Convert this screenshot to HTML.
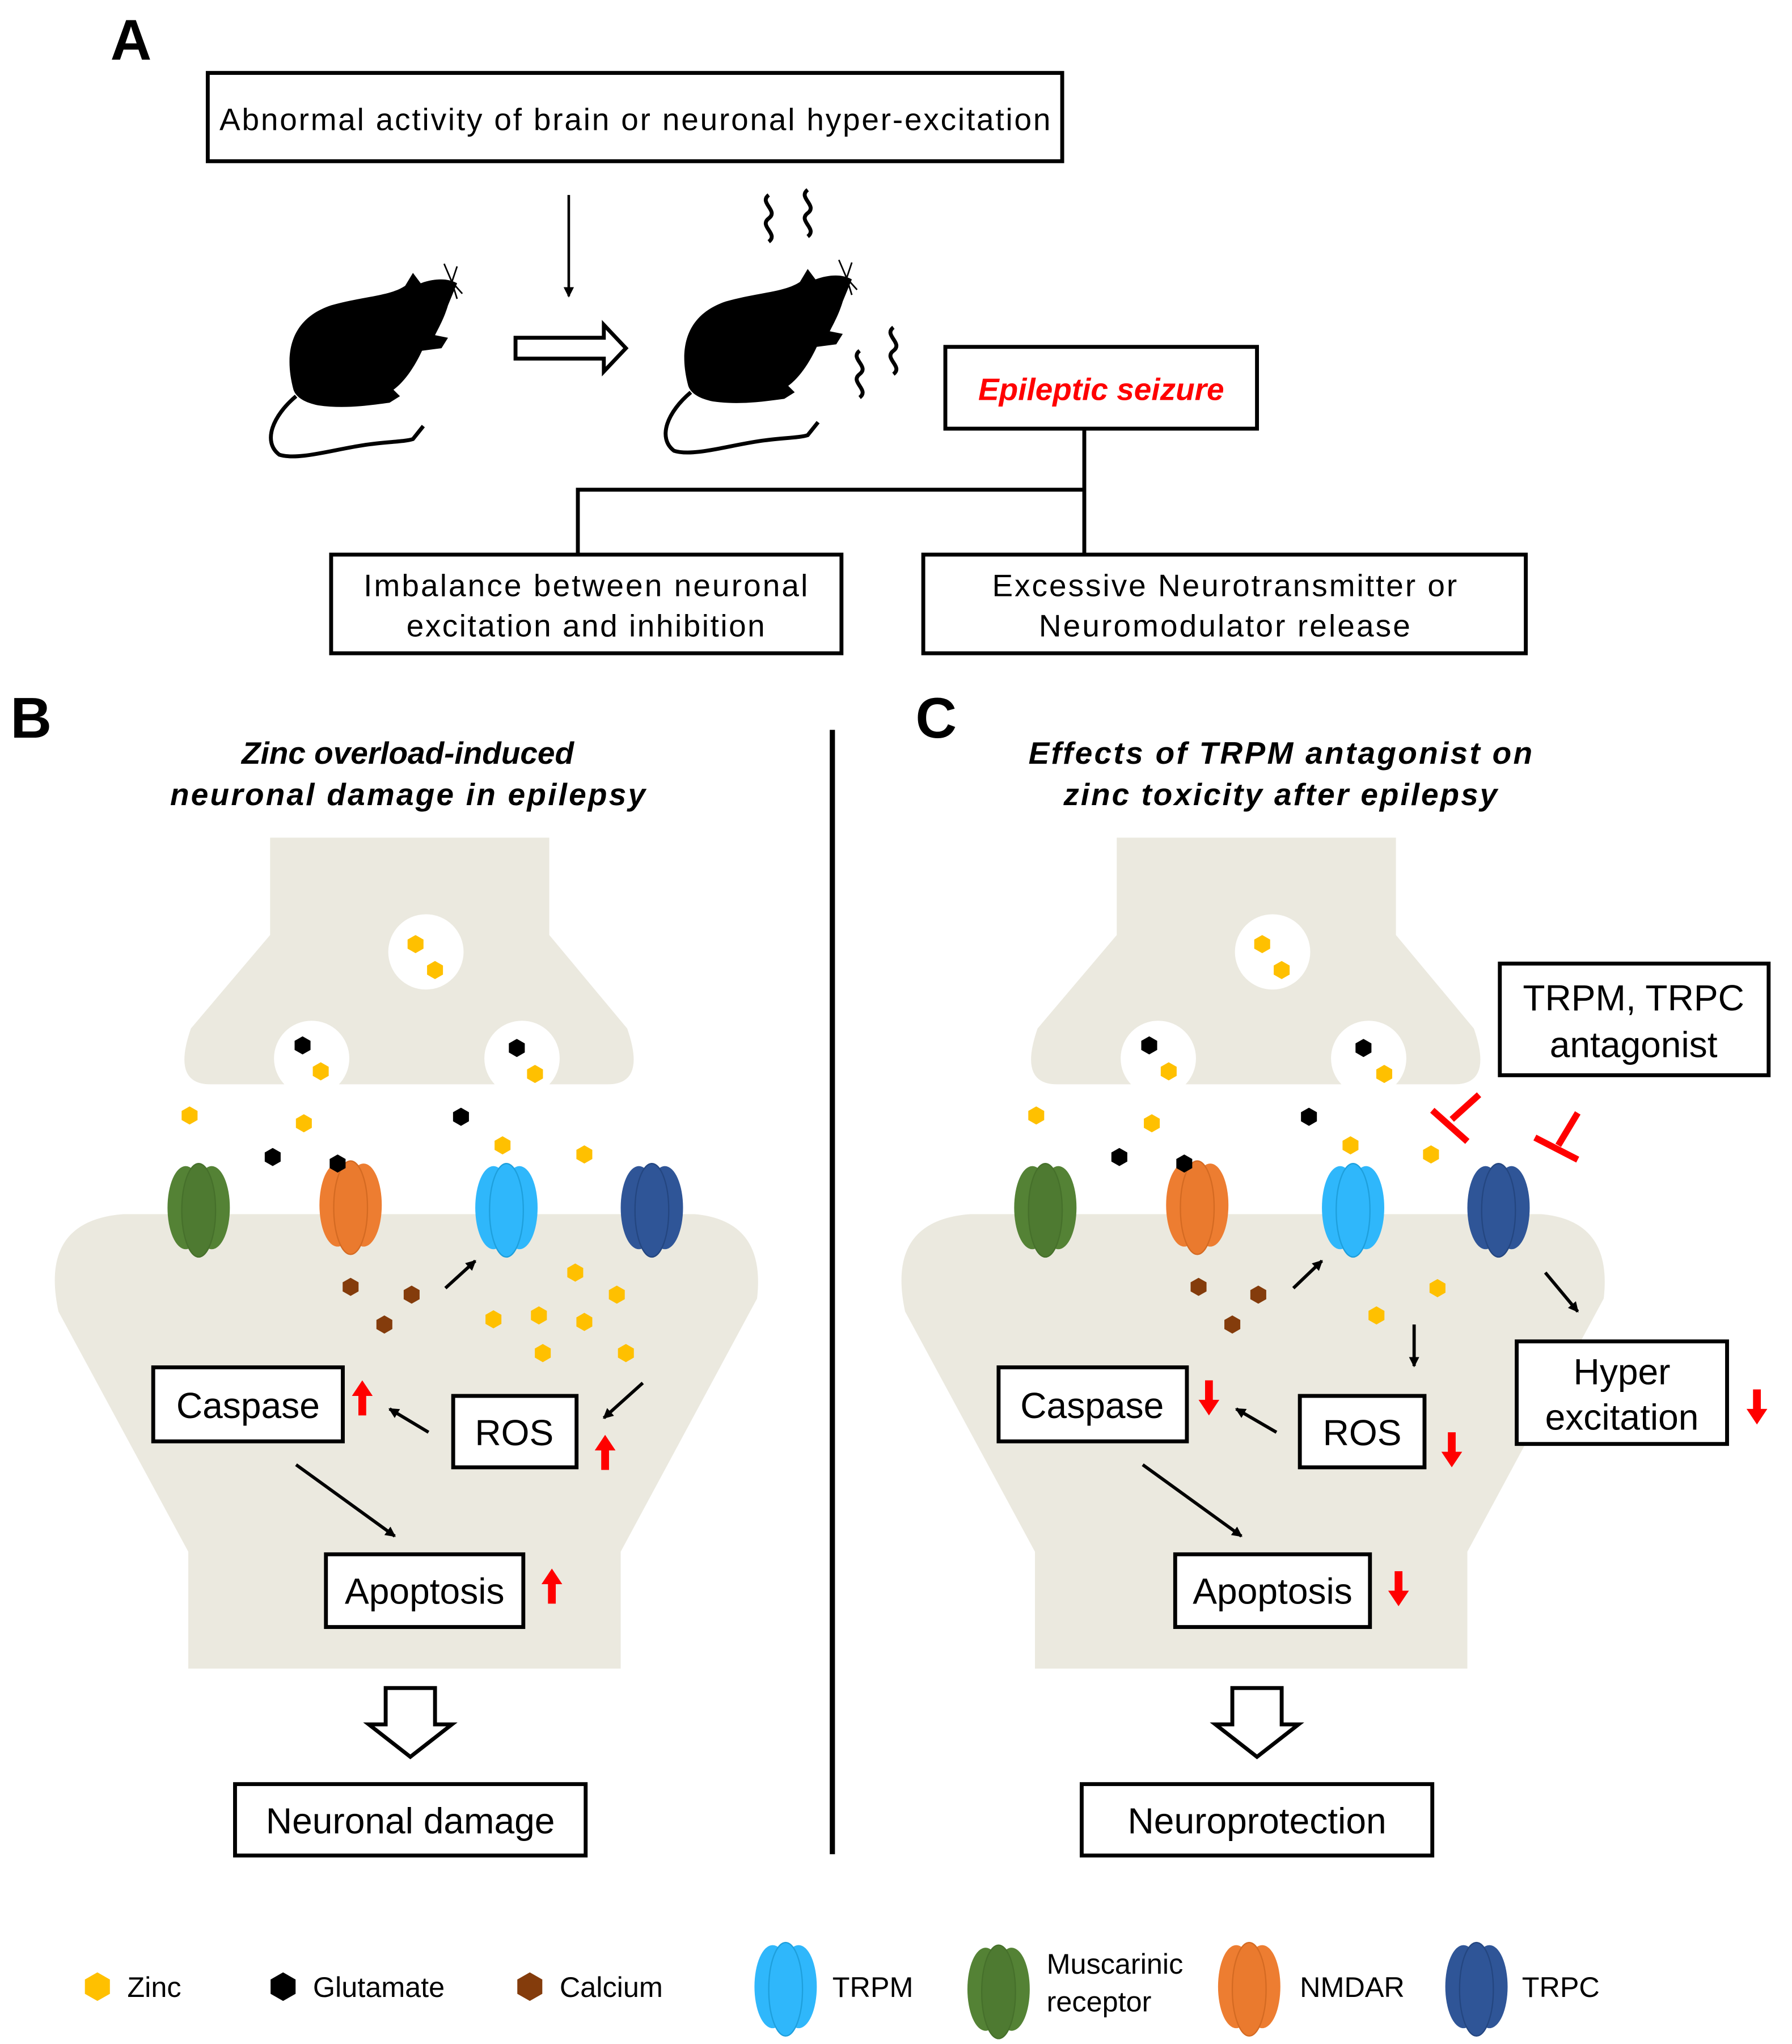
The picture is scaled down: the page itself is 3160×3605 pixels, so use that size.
<!DOCTYPE html>
<html><head><meta charset="utf-8"><style>
html,body{margin:0;padding:0;background:#fff}
svg{display:block}
text{font-family:"Liberation Sans",Arial,sans-serif}
</style></head><body>
<svg width="3160" height="3605" viewBox="0 0 1380 1574" xmlns="http://www.w3.org/2000/svg">
<defs>
<marker id="ah" markerWidth="8" markerHeight="8" refX="7" refY="4" orient="auto" markerUnits="userSpaceOnUse"><path d="M0,0 L8,4 L0,8 Z" fill="#000"/></marker>
<symbol id="hex" viewBox="-8 -8 16 16"><polygon points="0,-8 7,-4 7,4 0,8 -7,4 -7,-4"/></symbol>
<g id="mouse">
<path d="M226,300 C218,270 225,245 255,235 C280,228 300,228 312,220 L318,210 L324,218 C335,214 345,214 352,218 L345,235 C342,245 338,252 335,258 L345,260 L340,268 L325,270 C318,285 310,295 303,300 L308,305 L300,310 C285,312 265,315 245,312 C235,310 228,306 226,300 Z" fill="#000"/>
<path d="M348,217 L342,203 M348,217 L352,205 M348,217 L356,226 M348,217 L352,230" stroke="#000" stroke-width="1.2" fill="none"/>
<path d="M228,305 C210,320 202,340 215,350 C230,355 260,345 285,342 C300,340 312,340 318,338 L326,328" stroke="#000" stroke-width="3" fill="none"/>
</g>
<g id="green"><ellipse cx="-10" cy="0" rx="14" ry="32" fill="#548235"/><ellipse cx="10" cy="0" rx="14" ry="32" fill="#548235"/><ellipse cx="0" cy="2" rx="13" ry="36" fill="#4e7a31" stroke="#46702b" stroke-width="1"/></g>
<g id="orange"><ellipse cx="-10" cy="0" rx="14" ry="32" fill="#ed7d31"/><ellipse cx="10" cy="0" rx="14" ry="32" fill="#ed7d31"/><ellipse cx="0" cy="2" rx="13" ry="36" fill="#ea7a2e" stroke="#d46a22" stroke-width="1"/></g>
<g id="lblue"><ellipse cx="-10" cy="0" rx="14" ry="32" fill="#2fb7fb"/><ellipse cx="10" cy="0" rx="14" ry="32" fill="#2fb7fb"/><ellipse cx="0" cy="2" rx="13" ry="36" fill="#2fb7fb" stroke="#1e9fdc" stroke-width="1"/></g>
<g id="navy"><ellipse cx="-10" cy="0" rx="14" ry="32" fill="#2f5597"/><ellipse cx="10" cy="0" rx="14" ry="32" fill="#2f5597"/><ellipse cx="0" cy="2" rx="13" ry="36" fill="#2f5597" stroke="#244680" stroke-width="1"/></g>
<g id="cell">
<path d="M208,645 L423,645 L423,720 L483,792 Q498,835 468,835 L162,835 Q132,835 147,792 L208,720 Z" fill="#ebe9df"/>
<path d="M95,935 L535,935 Q590,940 583,1000 L478,1195 L478,1285 L145,1285 L145,1195 L45,1010 Q30,940 95,935 Z" fill="#ebe9df"/>
<circle cx="328" cy="733" r="29" fill="#fff"/>
<circle cx="240" cy="815" r="29" fill="#fff"/>
<circle cx="402" cy="815" r="29" fill="#fff"/>
<use href="#green" x="153" y="930"/>
<use href="#orange" x="270" y="928"/>
<use href="#lblue" x="390" y="930"/>
<use href="#navy" x="502" y="930"/>
<polygon points="297,1300 335,1300 335,1328 348,1328 316,1353 284,1328 297,1328" fill="#fff" stroke="#000" stroke-width="3"/>
</g>
</defs>
<rect width="1380" height="1574" fill="#fff"/>

<!-- Panel A -->
<text x="85" y="46" font-size="44" font-weight="bold">A</text>
<rect x="160" y="56" width="658" height="68" fill="#fff" stroke="#000" stroke-width="3"/>
<text x="489" y="100" font-size="24" text-anchor="middle" textLength="640" lengthAdjust="spacing">Abnormal activity of brain or neuronal hyper-excitation</text>
<line x1="438" y1="150" x2="438" y2="228" stroke="#000" stroke-width="2" marker-end="url(#ah)"/>
<use href="#mouse" x="0" y="0"/>
<use href="#mouse" x="304" y="-3"/>
<polygon points="397,260 465,260 465,250 482,268 465,286 465,276 397,276" fill="#fff" stroke="#000" stroke-width="3"/>
<path d="M592,150 c-8,6 8,12 0,18 c-8,6 8,12 0,18 M622,146 c-8,6 8,12 0,18 c-8,6 8,12 0,18 M662,270 c-8,6 8,12 0,18 c-8,6 8,12 0,18 M688,252 c-8,6 8,12 0,18 c-8,6 8,12 0,18" stroke="#000" stroke-width="3" fill="none"/>
<rect x="728" y="267" width="240" height="63" fill="#fff" stroke="#000" stroke-width="3"/>
<text x="848" y="308" font-size="24" font-weight="bold" font-style="italic" fill="#ff0000" text-anchor="middle">Epileptic seizure</text>
<path d="M835,330 L835,427 M445,427 L445,377 L835,377" stroke="#000" stroke-width="3" fill="none"/>
<rect x="255" y="427" width="393" height="76" fill="#fff" stroke="#000" stroke-width="3"/>
<text x="451" y="459" font-size="24" text-anchor="middle" textLength="342" lengthAdjust="spacing">Imbalance between neuronal</text>
<text x="451" y="490" font-size="24" text-anchor="middle" textLength="276" lengthAdjust="spacing">excitation and inhibition</text>
<rect x="711" y="427" width="464" height="76" fill="#fff" stroke="#000" stroke-width="3"/>
<text x="943" y="459" font-size="24" text-anchor="middle" textLength="358" lengthAdjust="spacing">Excessive Neurotransmitter or</text>
<text x="943" y="490" font-size="24" text-anchor="middle" textLength="286" lengthAdjust="spacing">Neuromodulator release</text>

<!-- Panel B -->
<text x="8" y="568" font-size="44" font-weight="bold">B</text>
<text x="314" y="588" font-size="24" font-weight="bold" font-style="italic" text-anchor="middle">Zinc overload-induced</text>
<text x="314" y="620" font-size="24" font-weight="bold" font-style="italic" text-anchor="middle" textLength="366" lengthAdjust="spacing">neuronal damage in epilepsy</text>
<use href="#cell"/>
<g fill="#ffc000">
<use href="#hex" x="313" y="720" width="14" height="14"/><use href="#hex" x="328" y="740" width="14" height="14"/>
<use href="#hex" x="240" y="818" width="14" height="14"/><use href="#hex" x="405" y="820" width="14" height="14"/>
<use href="#hex" x="139" y="852" width="14" height="14"/><use href="#hex" x="227" y="858" width="14" height="14"/>
<use href="#hex" x="380" y="875" width="14" height="14"/><use href="#hex" x="443" y="882" width="14" height="14"/>
<use href="#hex" x="436" y="973" width="14" height="14"/><use href="#hex" x="468" y="990" width="14" height="14"/>
<use href="#hex" x="373" y="1009" width="14" height="14"/><use href="#hex" x="408" y="1006" width="14" height="14"/><use href="#hex" x="443" y="1011" width="14" height="14"/>
<use href="#hex" x="411" y="1035" width="14" height="14"/><use href="#hex" x="475" y="1035" width="14" height="14"/>
</g>
<g fill="#000">
<use href="#hex" x="226" y="798" width="14" height="14"/><use href="#hex" x="391" y="800" width="14" height="14"/>
<use href="#hex" x="348" y="853" width="14" height="14"/><use href="#hex" x="203" y="884" width="14" height="14"/><use href="#hex" x="253" y="889" width="14" height="14"/>
</g>
<g fill="#843c0c">
<use href="#hex" x="263" y="984" width="14" height="14"/><use href="#hex" x="310" y="990" width="14" height="14"/><use href="#hex" x="289" y="1013" width="14" height="14"/>
</g>
<line x1="343" y1="992" x2="366" y2="971" stroke="#000" stroke-width="2.5" marker-end="url(#ah)"/>
<line x1="495" y1="1065" x2="465" y2="1092" stroke="#000" stroke-width="2.5" marker-end="url(#ah)"/>
<line x1="330" y1="1103" x2="300" y2="1085" stroke="#000" stroke-width="2.5" marker-end="url(#ah)"/>
<line x1="228" y1="1128" x2="304" y2="1183" stroke="#000" stroke-width="2.5" marker-end="url(#ah)"/>
<rect x="118" y="1053" width="146" height="57" fill="#fff" stroke="#000" stroke-width="3"/>
<text x="191" y="1092" font-size="28" text-anchor="middle">Caspase</text>
<rect x="349" y="1075" width="95" height="55" fill="#fff" stroke="#000" stroke-width="3"/>
<text x="396" y="1113" font-size="28" text-anchor="middle">ROS</text>
<rect x="251" y="1197" width="152" height="56" fill="#fff" stroke="#000" stroke-width="3"/>
<text x="327" y="1235" font-size="28" text-anchor="middle">Apoptosis</text>
<rect x="181" y="1374" width="270" height="55" fill="#fff" stroke="#000" stroke-width="3"/>
<text x="316" y="1412" font-size="28" text-anchor="middle">Neuronal damage</text>
<g fill="#ff0000">
<path d="M279,1063 L287,1075 L282,1075 L282,1090 L276,1090 L276,1075 L271,1075 Z"/>
<path d="M466,1105 L474,1117 L469,1117 L469,1132 L463,1132 L463,1117 L458,1117 Z"/>
<path d="M425,1208 L433,1220 L428,1220 L428,1235 L422,1235 L422,1220 L417,1220 Z"/>
</g>

<line x1="641" y1="562" x2="641" y2="1428" stroke="#000" stroke-width="4"/>

<!-- Panel C -->
<text x="705" y="568" font-size="44" font-weight="bold">C</text>
<text x="986" y="588" font-size="24" font-weight="bold" font-style="italic" text-anchor="middle" textLength="388" lengthAdjust="spacing">Effects of TRPM antagonist on</text>
<text x="986" y="620" font-size="24" font-weight="bold" font-style="italic" text-anchor="middle" textLength="334" lengthAdjust="spacing">zinc toxicity after epilepsy</text>
<use href="#cell" x="652"/>
<g fill="#ffc000">
<use href="#hex" x="965" y="720" width="14" height="14"/><use href="#hex" x="980" y="740" width="14" height="14"/>
<use href="#hex" x="893" y="818" width="14" height="14"/><use href="#hex" x="1059" y="820" width="14" height="14"/>
<use href="#hex" x="791" y="852" width="14" height="14"/><use href="#hex" x="880" y="858" width="14" height="14"/>
<use href="#hex" x="1033" y="875" width="14" height="14"/><use href="#hex" x="1095" y="882" width="14" height="14"/>
<use href="#hex" x="1100" y="985" width="14" height="14"/><use href="#hex" x="1053" y="1006" width="14" height="14"/>
</g>
<g fill="#000">
<use href="#hex" x="878" y="798" width="14" height="14"/><use href="#hex" x="1043" y="800" width="14" height="14"/>
<use href="#hex" x="1001" y="853" width="14" height="14"/><use href="#hex" x="855" y="884" width="14" height="14"/><use href="#hex" x="905" y="889" width="14" height="14"/>
</g>
<g fill="#843c0c">
<use href="#hex" x="916" y="984" width="14" height="14"/><use href="#hex" x="962" y="990" width="14" height="14"/><use href="#hex" x="942" y="1013" width="14" height="14"/>
</g>
<line x1="996" y1="992" x2="1018" y2="971" stroke="#000" stroke-width="2.5" marker-end="url(#ah)"/>
<line x1="1089" y1="1020" x2="1089" y2="1052" stroke="#000" stroke-width="2.5" marker-end="url(#ah)"/>
<line x1="983" y1="1103" x2="952" y2="1085" stroke="#000" stroke-width="2.5" marker-end="url(#ah)"/>
<line x1="880" y1="1128" x2="956" y2="1183" stroke="#000" stroke-width="2.5" marker-end="url(#ah)"/>
<line x1="1190" y1="980" x2="1215" y2="1010" stroke="#000" stroke-width="2.5" marker-end="url(#ah)"/>
<g stroke="#ff0000" stroke-width="5" fill="none">
<path d="M1103,855 L1130,879 M1118,862 L1139,843"/>
<path d="M1182,876 L1215,893 M1200,882 L1215,857"/>
</g>
<rect x="1155" y="742" width="207" height="86" fill="#fff" stroke="#000" stroke-width="3"/>
<text x="1258" y="778" font-size="28" text-anchor="middle">TRPM, TRPC</text>
<text x="1258" y="814" font-size="28" text-anchor="middle">antagonist</text>
<rect x="1168" y="1033" width="162" height="79" fill="#fff" stroke="#000" stroke-width="3"/>
<text x="1249" y="1066" font-size="28" text-anchor="middle">Hyper</text>
<text x="1249" y="1101" font-size="28" text-anchor="middle">excitation</text>
<rect x="769" y="1053" width="145" height="57" fill="#fff" stroke="#000" stroke-width="3"/>
<text x="841" y="1092" font-size="28" text-anchor="middle">Caspase</text>
<rect x="1001" y="1075" width="96" height="55" fill="#fff" stroke="#000" stroke-width="3"/>
<text x="1049" y="1113" font-size="28" text-anchor="middle">ROS</text>
<rect x="905" y="1197" width="150" height="56" fill="#fff" stroke="#000" stroke-width="3"/>
<text x="980" y="1235" font-size="28" text-anchor="middle">Apoptosis</text>
<rect x="833" y="1374" width="270" height="55" fill="#fff" stroke="#000" stroke-width="3"/>
<text x="968" y="1412" font-size="28" text-anchor="middle">Neuroprotection</text>
<g fill="#ff0000">
<path d="M931,1090 L939,1078 L934,1078 L934,1063 L928,1063 L928,1078 L923,1078 Z"/>
<path d="M1118,1130 L1126,1118 L1121,1118 L1121,1103 L1115,1103 L1115,1118 L1110,1118 Z"/>
<path d="M1077,1237 L1085,1225 L1080,1225 L1080,1210 L1074,1210 L1074,1225 L1069,1225 Z"/>
<path d="M1353,1097 L1361,1085 L1356,1085 L1356,1070 L1350,1070 L1350,1085 L1345,1085 Z"/>
</g>

<!-- Legend -->
<use href="#hex" x="64" y="1519" width="22" height="22" fill="#ffc000"/>
<text x="98" y="1538" font-size="22">Zinc</text>
<use href="#hex" x="207" y="1519" width="22" height="22" fill="#000"/>
<text x="241" y="1538" font-size="22">Glutamate</text>
<use href="#hex" x="397" y="1519" width="22" height="22" fill="#843c0c"/>
<text x="431" y="1538" font-size="22">Calcium</text>
<use href="#lblue" x="605" y="1530"/>
<text x="641" y="1538" font-size="22">TRPM</text>
<use href="#green" x="769" y="1532"/>
<text x="806" y="1520" font-size="22">Muscarinic</text>
<text x="806" y="1549" font-size="22">receptor</text>
<use href="#orange" x="962" y="1530"/>
<text x="1001" y="1538" font-size="22">NMDAR</text>
<use href="#navy" x="1137" y="1530"/>
<text x="1172" y="1538" font-size="22">TRPC</text>
</svg>
</body></html>
